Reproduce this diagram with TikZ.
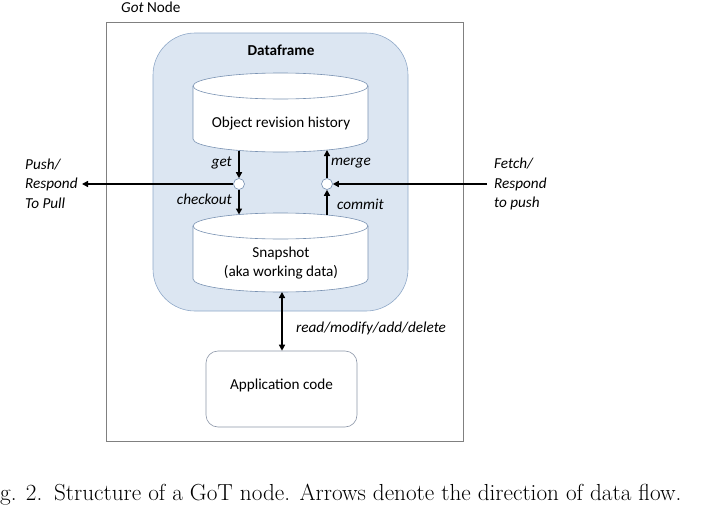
\documentclass[tikz,border=0pt]{standalone}
\usepackage{fontspec}
\setmainfont{Carlito}
\newfontfamily\capfont{Latin Modern Roman}
\usetikzlibrary{arrows.meta}
\definecolor{dfblue}{RGB}{220,230,242}
\definecolor{dfborder}{RGB}{143,168,200}
\definecolor{cylborder}{RGB}{120,145,178}
\definecolor{outergray}{RGB}{128,128,128}
\definecolor{appborder}{RGB}{140,150,168}
\tikzset{
  lbl/.style={font=\fontsize{15.2}{18}\selectfont, inner sep=0pt},
  ilbl/.style={lbl, font=\fontsize{15.2}{18}\selectfont\itshape},
  flow/.style={line width=1.5pt, -{Triangle[length=6pt,width=6pt]}},
  dflow/.style={line width=1.5pt, {Triangle[length=6pt,width=6pt]}-{Triangle[length=6pt,width=6pt]}},
  junction/.style={circle, draw=cylborder, fill=white, line width=0.6pt, minimum size=11pt, inner sep=0pt},
  cylpath/.style={draw=cylborder, fill=white, line width=0.6pt}
}
\begin{document}
\begin{tikzpicture}[x=1pt,y=1pt]
\useasboundingbox (0,0) rectangle (702,-514);
% outer node frame
\node[draw=outergray, line width=0.8pt, minimum width=357pt, minimum height=419pt, inner sep=0pt] (outer) at (284.5,-231.5) {};
\node[lbl, anchor=west] (gottitle) at (121,-7) {\textit{Got} Node};
% dataframe
\node[draw=dfborder, fill=dfblue, line width=0.6pt, rounded corners=42pt, minimum width=255pt, minimum height=278pt, inner sep=0pt] (df) at (280.5,-172) {};
\node[lbl, font=\fontsize{15.2}{18}\selectfont\bfseries] (dftitle) at (281,-50) {Dataframe};
% top cylinder
\path[cylpath] (193,-86) -- (193,-139) arc[start angle=180, end angle=360, x radius=87.5pt, y radius=13pt] -- (368,-86) arc[start angle=0, end angle=180, x radius=87.5pt, y radius=13pt] -- cycle;
\draw[cylborder, line width=0.6pt] (193,-86) arc[start angle=180, end angle=360, x radius=87.5pt, y radius=13pt];
\node[lbl] (orh) at (281,-124) {Object revision history};
% bottom cylinder
\path[cylpath] (193,-226) -- (193,-279) arc[start angle=180, end angle=360, x radius=87.5pt, y radius=13pt] -- (368,-226) arc[start angle=0, end angle=180, x radius=87.5pt, y radius=13pt] -- cycle;
\draw[cylborder, line width=0.6pt] (193,-226) arc[start angle=180, end angle=360, x radius=87.5pt, y radius=13pt];
\node[lbl] (snap1) at (281,-253) {Snapshot};
\node[lbl] (snap2) at (281,-272) {(aka working data)};
% connection points on cylinders
\coordinate (topL) at (239,-150.5);
\coordinate (topR) at (327,-150);
\coordinate (botL) at (239,-214.5);
\coordinate (botR) at (327,-215);
\coordinate (botC) at (282,-292);
% junctions
\node[junction] (jl) at (239,-184) {};
\node[junction] (jr) at (327,-184) {};
% arrows
\draw[flow] (topL) -- (jl.north);
\draw[flow] (jl.south) -- (botL);
\draw[flow] (jr.north) -- (topR);
\draw[flow] (botR) -- (jr.south);
\coordinate (pushend) at (82,-184);
\coordinate (fetchstart) at (487,-184);
\draw[flow] (jl.west) -- (pushend);
\draw[flow] (fetchstart) -- (jr.east);
% arrow labels
\node[ilbl, anchor=east] (getl) at (232,-163) {get};
\node[ilbl, anchor=east] (col) at (232,-199) {checkout};
\node[ilbl, anchor=west] (mergel) at (331,-163) {merge};
\node[ilbl, anchor=west] (commitl) at (337,-204) {commit};
% left text
\node[ilbl, anchor=west] (push1) at (25,-165) {Push/};
\node[ilbl, anchor=west] (push2) at (25,-184) {Respond};
\node[ilbl, anchor=west] (push3) at (25,-203) {To Pull};
% right text
\node[ilbl, anchor=west] (fetch1) at (494,-164) {Fetch/};
\node[ilbl, anchor=west] (fetch2) at (494,-184) {Respond};
\node[ilbl, anchor=west] (fetch3) at (494,-203) {to push};
% application code
\node[draw=appborder, line width=0.6pt, rounded corners=12pt, minimum width=151pt, minimum height=76pt, inner sep=0pt] (app) at (281.5,-389) {};
\node[lbl] (appl) at (281.5,-385) {Application code};
\draw[dflow] (botC) -- (app.north -| botC);
\node[ilbl, anchor=west] (rmad) at (296,-328) {read/modify/add/delete};
% caption
\node[anchor=base west, inner sep=0pt, font=\capfont\fontsize{23.2}{27}\selectfont] (caption) at (0,-500) {g. 2.\enspace Structure of a GoT node. Arrows denote the direction of data flow.};
\end{tikzpicture}
\end{document}
